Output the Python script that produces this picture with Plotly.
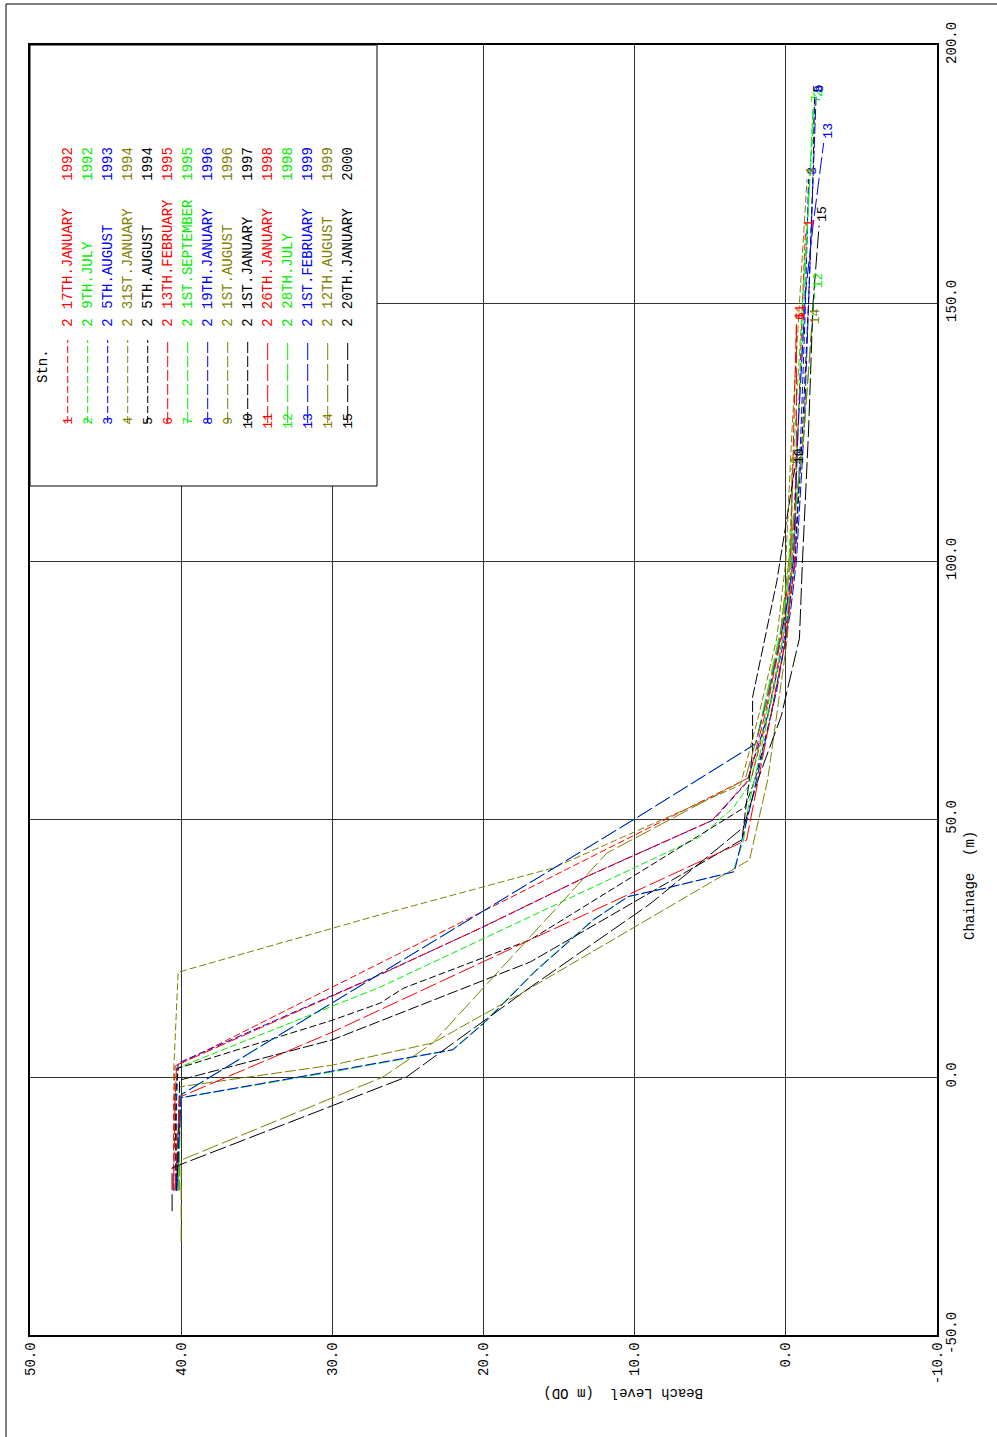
import plotly.graph_objects as go

# ---------------- data ----------------
stations = list(range(1, 16))
survey_dates = ["17TH.JANUARY", "9TH.JULY", "5TH.AUGUST", "31ST.JANUARY", "5TH.AUGUST",
                "13TH.FEBRUARY", "1ST.SEPTEMBER", "19TH.JANUARY", "1ST.AUGUST", "1ST.JANUARY",
                "26TH.JANUARY", "28TH.JULY", "1ST.FEBRUARY", "12TH.AUGUST", "20TH.JANUARY"]
survey_years = ["1992", "1992", "1993", "1994", "1994", "1995", "1995", "1996", "1996", "1997",
                "1998", "1998", "1999", "1999", "2000"]

s1_ch = [-22, -5, 2.1, 58.3, 70, 85, 100, 125, 150, 164]
s1_lv = [40.5, 40.5, 40.4, 2.25, 1.2, 0.2, -0.4, -0.8, -1.1, -1.3]
s2_ch = [-22, -4, 1.7, 17.4, 46.5, 52.1, 56.6, 70, 85, 100, 125, 150, 175, 189]
s2_lv = [40.3, 40.3, 40.3, 26.85, 5.7, 3.5, 2.4, 1.3, 0.4, -0.2, -0.6, -1.1, -1.6, -1.9]
s3_ch = [-22, -4, 2.7, 19.8, 29.1, 38.8, 49.8, 57, 70, 85, 100, 125, 150, 174]
s3_lv = [40.4, 40.3, 40.2, 26.9, 20.0, 13.2, 4.8, 2.6, 1.2, 0.1, -0.6, -1.0, -1.3, -1.5]
s4_ch = [-20, 0.8, 20.3, 31.4, 40.5, 56.6, 70, 85, 100, 125, 150, 174]
s4_lv = [40.3, 40.5, 40.2, 26.9, 15.4, 3.0, 1.8, 0.6, 0.0, -0.4, -0.9, -1.4]
s5_ch = [-22, -4, 1.7, 11.0, 14.3, 17.2, 26.6, 52.3, 58, 70, 85, 100, 125, 150, 175, 190]
s5_lv = [40.3, 40.4, 40.2, 30.0, 26.85, 25.3, 16.9, 2.7, 2.0, 1.0, 0.0, -0.6, -1.1, -1.5, -1.8, -1.9]
s6_ch = [-22, -4, 2.3, 19.6, 29.0, 38.7, 49.7, 57.5, 70, 85, 100, 125, 146]
s6_lv = [40.5, 40.4, 40.3, 27.0, 20.1, 13.3, 4.9, 2.5, 1.4, 0.3, -0.3, -0.5, -0.7]
s7_ch = [-22, -4.1, 1.0, 5.2, 10.5, 20.3, 30.4, 34.9, 36.6, 39.7, 45.9, 52, 60, 75, 90, 100, 125, 150, 175, 188]
s7_lv = [40.2, 40.1, 30.0, 22.1, 20.0, 16.7, 12.8, 10.5, 7.9, 3.5, 2.8, 2.5, 1.9, 0.8, -0.1, -0.5, -0.8, -1.2, -1.6, -1.8]
s8_ch = [-22, -4.0, 1.1, 5.3, 10.6, 20.4, 30.5, 35.0, 36.7, 39.8, 46.0, 53, 62, 75, 90, 100, 125, 150, 175, 190]
s8_lv = [40.3, 40.0, 30.1, 22.0, 19.9, 16.6, 12.7, 10.4, 7.8, 3.4, 2.9, 2.3, 1.6, 0.6, -0.3, -0.7, -1.2, -1.5, -1.8, -2.0]
s9_ch = [-22, -1.9, 2.3, 6.6, 16.9, 28.9, 42.1, 57.6, 70, 85, 100, 118]
s9_lv = [40.1, 40.1, 30.0, 23.35, 17.1, 10.1, 2.4, 1.2, 0.6, -0.1, -0.4, -0.4]
s10_ch = [-22, -0.6, 7.2, 22.3, 46, 63, 73.6, 96, 118]
s10_lv = [40.3, 40.1, 30.0, 16.9, 2.9, 2.2, 2.2, 0.6, -0.6]
s11_ch = [-22, -3.9, 8.7, 13.0, 26.6, 45.9, 55, 70, 85, 100, 125, 146]
s11_lv = [40.4, 40.1, 30.0, 26.85, 16.9, 2.6, 2.0, 1.0, 0.0, -0.6, -0.7, -0.7]
s12_ch = [-22, -3.5, 50.0, 64.5, 75, 90, 100, 125, 152]
s12_lv = [40.2, 40.0, 10.0, 2.0, 1.2, 0.1, -0.3, -1.2, -1.9]
s13_ch = [-22, -3.4, 50.0, 64.6, 75, 90, 100, 125, 152, 165, 181]
s13_lv = [40.3, 40.0, 10.0, 2.0, 1.1, 0.0, -0.5, -0.8, -1.3, -1.8, -2.5]
s14_ch = [-32, -16.1, 0, 6.6, 43.4, 57.6, 70, 85, 100, 125, 145]
s14_lv = [40.0, 40.0, 26.65, 23.35, 11.84, 2.7, 1.5, 0.4, -0.2, -1.2, -1.7]
s15_ch = [-26, -17.6, 0, 17.4, 33.5, 48.4, 58, 70, 85, 100, 125, 150, 165]
s15_lv = [40.6, 40.6, 25.1, 16.9, 9.0, 2.8, 1.8, 0.3, -0.9, -1.1, -1.5, -1.8, -2.2]

chainages = [s1_ch, s2_ch, s3_ch, s4_ch, s5_ch, s6_ch, s7_ch, s8_ch, s9_ch, s10_ch,
             s11_ch, s12_ch, s13_ch, s14_ch, s15_ch]
levels = [s1_lv, s2_lv, s3_lv, s4_lv, s5_lv, s6_lv, s7_lv, s8_lv, s9_lv, s10_lv,
          s11_lv, s12_lv, s13_lv, s14_lv, s15_lv]

level_ticks = [50, 40, 30, 20, 10, 0, -10]
chainage_ticks = [-50, 0, 50, 100, 150, 200]

# ---------------- styles ----------------
palette = ["#ff0000", "#00ee00", "#0000ff", "#808000", "#000000"]
dash_short, dash_med, dash_long = "7px,3px", "11px,3px", "17px,4px"
FONT = "Liberation Mono"

W, H = 997, 1437
L_PX, R_PX, T_PX, B_PX = 30, 937, 45, 1335


def px(x):
    return (x - L_PX) / (R_PX - L_PX)


def py(y):
    return (B_PX - y) / (B_PX - T_PX)


fig = go.Figure()
annotations = []
shapes = []

for i, st in enumerate(stations):
    col = palette[i % 5]
    dash = dash_short if i < 5 else (dash_med if i < 10 else dash_long)
    fig.add_trace(go.Scatter(x=levels[i], y=chainages[i], mode="lines",
                             line=dict(color=col, width=1, dash=dash),
                             showlegend=False, hoverinfo="skip"))
    annotations.append(dict(x=levels[i][-1], y=chainages[i][-1], xref="x", yref="y",
                            text=str(st), showarrow=False, textangle=-90,
                            font=dict(family=FONT, size=13, color=col),
                            xanchor="center", yanchor="bottom", xshift=4, yshift=2))

# legend box
shapes.append(dict(type="rect", xref="paper", yref="paper", x0=px(30), x1=px(377),
                   y0=py(486), y1=py(45), fillcolor="white",
                   line=dict(color="black", width=1), layer="above"))
annotations.append(dict(x=px(43), y=py(366), xref="paper", yref="paper", text="Stn.",
                        showarrow=False, textangle=-90, font=dict(family=FONT, size=14, color="black"),
                        xanchor="center", yanchor="middle"))
for i, st in enumerate(stations):
    col = palette[i % 5]
    dash = dash_short if i < 5 else (dash_med if i < 10 else dash_long)
    xc = 67.7 + 20 * i
    shapes.append(dict(type="line", xref="paper", yref="paper", x0=px(xc), x1=px(xc),
                       y0=py(423), y1=py(340), line=dict(color=col, width=1, dash=dash),
                       layer="above"))
    annotations.append(dict(x=px(xc), y=py(421), xref="paper", yref="paper", text=str(st),
                            showarrow=False, textangle=-90,
                            font=dict(family=FONT, size=13, color=col),
                            xanchor="center", yanchor="middle"))
    annotations.append(dict(x=px(xc), y=py(323), xref="paper", yref="paper", text="2",
                            showarrow=False, textangle=-90,
                            font=dict(family=FONT, size=14, color=col),
                            xanchor="center", yanchor="middle"))
    annotations.append(dict(x=px(xc), y=py(311), xref="paper", yref="paper",
                            text=survey_dates[i], showarrow=False, textangle=-90,
                            font=dict(family=FONT, size=14, color=col),
                            xanchor="center", yanchor="bottom"))
    annotations.append(dict(x=px(xc), y=py(183), xref="paper", yref="paper",
                            text=survey_years[i], showarrow=False, textangle=-90,
                            font=dict(family=FONT, size=14, color=col),
                            xanchor="center", yanchor="bottom"))

# axis titles
annotations.append(dict(x=px(623), y=py(1393), xref="paper", yref="paper",
                        text="Beach Level  (m OD)", showarrow=False, textangle=180,
                        font=dict(family=FONT, size=14, color="black"),
                        xanchor="center", yanchor="middle"))
annotations.append(dict(x=px(970), y=py(885), xref="paper", yref="paper",
                        text="Chainage  (m)", showarrow=False, textangle=-90,
                        font=dict(family=FONT, size=14, color="black"),
                        xanchor="center", yanchor="middle"))

# outer frame
shapes.append(dict(type="line", xref="paper", yref="paper", x0=px(6), x1=px(6),
                   y0=py(1437), y1=py(4), line=dict(color="black", width=1)))
shapes.append(dict(type="line", xref="paper", yref="paper", x0=px(6), x1=px(997),
                   y0=py(4), y1=py(4), line=dict(color="black", width=1)))

fig.update_layout(
    width=W, height=H, autosize=False,
    margin=dict(l=L_PX, r=W - R_PX, t=T_PX, b=H - B_PX, pad=0),
    plot_bgcolor="white", paper_bgcolor="white",
    font=dict(family=FONT, size=14, color="black"),
    annotations=annotations, shapes=shapes,
    xaxis=dict(range=[50, -10], tickvals=level_ticks,
               ticktext=["%.1f" % v for v in level_ticks], tickangle=-90,
               showgrid=True, gridcolor="#333333", gridwidth=1, zeroline=False,
               showline=True, linecolor="black", linewidth=1.5, mirror=True,
               ticks="", tickfont=dict(family=FONT, size=14)),
    yaxis=dict(range=[-50, 200], tickvals=chainage_ticks, side="right",
               ticktext=["%.1f" % v for v in chainage_ticks], tickangle=-90,
               showgrid=True, gridcolor="#333333", gridwidth=1, zeroline=False,
               showline=True, linecolor="black", linewidth=1.5, mirror=True,
               ticks="", tickfont=dict(family=FONT, size=14)),
)

fig.write_html("out.html")
